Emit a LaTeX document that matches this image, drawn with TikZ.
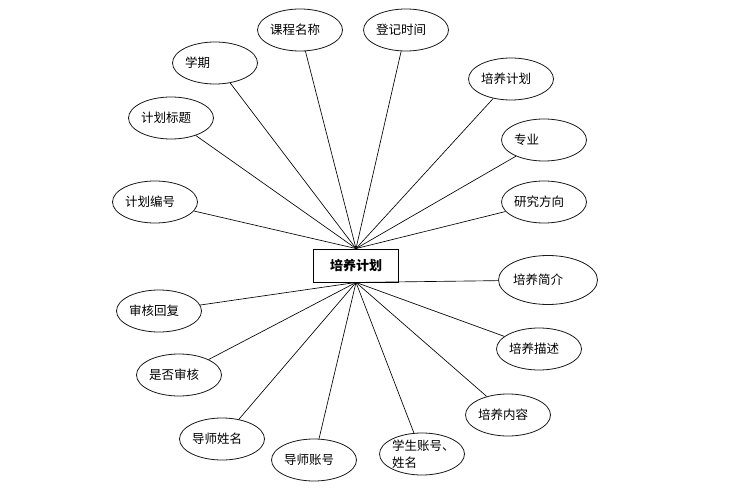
\documentclass[tikz,border=0pt]{standalone}
\usepackage{fontspec}
\setmainfont{Noto Sans CJK SC}
\usepackage{tikz}
\usetikzlibrary{shapes.geometric}

\begin{document}
\begin{tikzpicture}[
x=1pt, y=-1pt,
every node/.style={font=\fontsize{12.5pt}{17pt}\selectfont},
attr/.style={draw=black!90, ellipse, line width=0.8pt, minimum width=85pt, minimum height=42pt, text width=60pt, align=left, inner sep=0pt},
entity/.style={draw, rectangle, line width=0.9pt, minimum width=85pt, minimum height=33pt, font=\fontsize{13pt}{15pt}\selectfont\bfseries},
link/.style={line width=0.65pt}
]
\useasboundingbox (0,0) rectangle (735,494);

\node[entity] (main) at (356,265.5) {培养计划};

\node[attr] (kcmc) at (300,30) {课程名称};
\node[attr] (djsj) at (406,30) {登记时间};
\node[attr] (xq) at (215,63) {学期};
\node[attr] (pyjh) at (511,79) {培养计划};
\node[attr] (jhbt) at (171,118) {计划标题};
\node[attr] (zy) at (544,140) {专业};
\node[attr] (jhbh) at (155,202) {计划编号};
\node[attr] (yjfx) at (544,202) {研究方向};
\node[attr, minimum width=99pt, minimum height=49pt, text width=70pt] (pyjj) at (548,280) {培养简介};
\node[attr] (shhf) at (159,311) {审核回复};
\node[attr] (pyms) at (539,349) {培养描述};
\node[attr] (sfsh) at (179,375) {是否审核};
\node[attr] (pynr) at (508,415) {培养内容};
\node[attr] (dsxm) at (222,439) {导师姓名};
\node[attr] (xszh) at (422,454) {学生账号、\\姓名};
\node[attr] (dszh) at (314,460) {导师账号};

\draw[link] (main.north) -- (kcmc);
\draw[link] (main.north) -- (djsj);
\draw[link] (main.north) -- (xq);
\draw[link] (main.north) -- (pyjh);
\draw[link] (main.north) -- (jhbt);
\draw[link] (main.north) -- (zy);
\draw[link] (main.north) -- (jhbh);
\draw[link] (main.north) -- (yjfx);
\draw[link] (main.south) -- (pyjj);
\draw[link] (main.south) -- (shhf);
\draw[link] (main.south) -- (pyms);
\draw[link] (main.south) -- (sfsh);
\draw[link] (main.south) -- (pynr);
\draw[link] (main.south) -- (dsxm);
\draw[link] (main.south) -- (xszh);
\draw[link] (main.south) -- (dszh);

\end{tikzpicture}
\end{document}
